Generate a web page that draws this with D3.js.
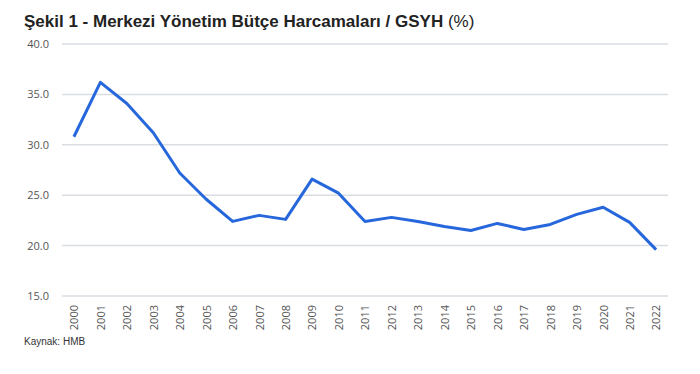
<!DOCTYPE html>
<html>
<head>
<meta charset="utf-8">
<script src="https://cdn.jsdelivr.net/npm/d3@7"></script>
<style>
  body { margin: 0; background: #fff; font-family: "Liberation Sans", Arial, sans-serif; }
</style>
</head>
<body>
<div id="chart"></div>
<script>
// data
var years = ["2000","2001","2002","2003","2004","2005","2006","2007","2008","2009","2010",
             "2011","2012","2013","2014","2015","2016","2017","2018","2019","2020","2021","2022"];
var values = [30.8, 36.2, 34.1, 31.2, 27.2, 24.6, 22.4, 23.0, 22.6, 26.6, 25.2,
              22.4, 22.8, 22.4, 21.9, 21.5, 22.2, 21.6, 22.1, 23.1, 23.8, 22.3, 19.6];
var yTicks = [15, 20, 25, 30, 35, 40];

var W = 700, H = 374;
var margin = {top: 44, right: 32, bottom: 78, left: 62},
    width = W - margin.left - margin.right,
    height = H - margin.top - margin.bottom;

var svg = d3.select("#chart").append("svg")
  .attr("width", W)
  .attr("height", H);

// title
var title = svg.append("text")
  .attr("x", 24)
  .attr("y", 27)
  .attr("font-size", "17px")
  .attr("fill", "#222");
title.append("tspan").attr("font-weight", "bold").text("Şekil 1 - Merkezi Yönetim Bütçe Harcamaları / GSYH");
title.append("tspan").text(" (%)");

var g = svg.append("g")
  .attr("transform", "translate(" + margin.left + "," + margin.top + ")");

var x = d3.scalePoint()
  .domain(years)
  .range([0, width])
  .padding(0.45);

var y = d3.scaleLinear()
  .domain([15, 40])
  .range([height, 0]);

// gridlines
g.append("g")
  .selectAll("line")
  .data(yTicks)
  .enter()
  .append("line")
    .attr("x1", 0)
    .attr("x2", width)
    .attr("y1", function(d) { return y(d); })
    .attr("y2", function(d) { return y(d); })
    .attr("stroke", "#d9dde2")
    .attr("stroke-width", 1.5);

// y axis labels
var yAxis = g.append("g")
  .call(d3.axisLeft(y).tickValues(yTicks).tickSize(0).tickPadding(13).tickFormat(d3.format(".1f")));
yAxis.select(".domain").remove();
yAxis.selectAll("text")
  .attr("font-family", "'Open Sans', sans-serif")
  .attr("font-size", "11px")
  .attr("fill", "#555");

// x axis labels, rotated
var xAxis = g.append("g")
  .attr("transform", "translate(0," + height + ")")
  .call(d3.axisBottom(x).tickSize(0));
xAxis.select(".domain").remove();
xAxis.selectAll("text")
  .attr("font-family", "'Open Sans', sans-serif")
  .attr("font-size", "11px")
  .attr("fill", "#555")
  .attr("transform", "rotate(-90)")
  .attr("text-anchor", "end")
  .attr("x", -9)
  .attr("y", 0)
  .attr("dy", "0.35em");

// line
var line = d3.line()
  .x(function(d, i) { return x(years[i]); })
  .y(function(d) { return y(d); });

g.append("path")
  .datum(values)
  .attr("fill", "none")
  .attr("stroke", "#2767dc")
  .attr("stroke-width", 3)
  .attr("stroke-linejoin", "round")
  .attr("d", line);

// source note
svg.append("text")
  .attr("x", 24)
  .attr("y", 345)
  .attr("font-size", "10px")
  .attr("fill", "#333")
  .text("Kaynak: HMB");
</script>
</body>
</html>
